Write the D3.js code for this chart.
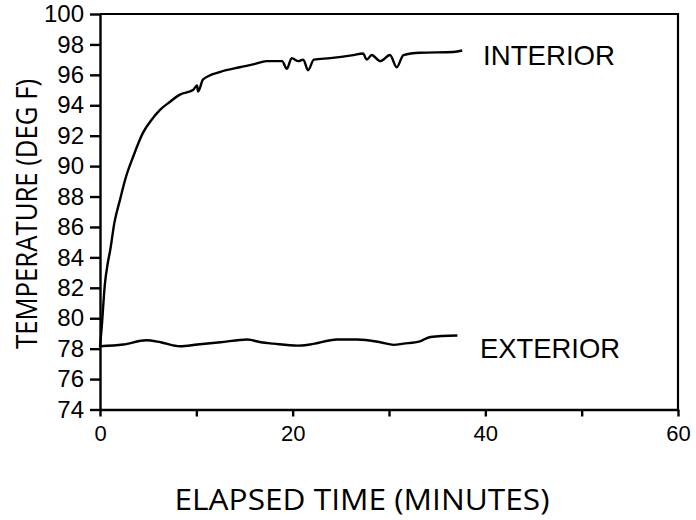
<!DOCTYPE html>
<html>
<head>
<meta charset="utf-8">
<script src="https://cdn.jsdelivr.net/npm/d3@7"></script>
<style>
  body { margin: 0; background: #fff; }
  svg { display: block; }
  .axis path, .axis line { stroke: #000; stroke-width: 2.4; }
  .axis text { font-family: "Liberation Sans", Arial, sans-serif; fill: #000; }
  .title { font-family: "Open Sans", "Liberation Sans", sans-serif; font-weight: 400; fill: #000; }
  .label { font-family: "Liberation Sans", Arial, sans-serif; font-size: 28px; fill: #000; }
</style>
</head>
<body>
<div id="chart"></div>
<script>
// interior temperature (deg F)
var interiorTime = [0, 0.2, 0.5, 0.8, 1.04, 1.5, 2.08, 2.7, 3.43, 4.47, 5.3, 6.23, 7.2, 8.3, 9.66,
  10.07, 10.18, 10.7, 12.5, 14.5, 16, 17.3, 18.9, 19.4, 19.9, 20.6, 21.1, 21.6, 22.2, 23.9,
  26.3, 27.3, 27.7, 28.2, 29.1, 30.1, 30.8, 31.5, 33.2, 36.7, 37.6];
var interiorTemp = [78.1, 79.6, 82.2, 83.6, 84.4, 86.3, 87.8, 89.3, 90.6, 92.2, 93.0, 93.7, 94.2, 94.7, 95.0,
  95.3, 94.9, 95.7, 96.2, 96.5, 96.7, 96.9, 96.9, 96.4, 97.1, 96.9, 97.0, 96.3, 97.0, 97.1,
  97.3, 97.4, 97.0, 97.3, 96.9, 97.3, 96.5, 97.3, 97.45, 97.5, 97.6];

// exterior temperature (deg F)
var exteriorTime = [0, 2.4, 4.8, 6.3, 8.3, 10.1, 12.5, 15.3, 16.7, 18.0, 20.5, 21.8, 24.6, 26.7,
  29.1, 30.5, 31.5, 33.2, 34.3, 37.1];
var exteriorTemp = [78.16, 78.27, 78.55, 78.42, 78.16, 78.27, 78.42, 78.6, 78.42, 78.33, 78.2, 78.27, 78.6, 78.6,
  78.42, 78.25, 78.33, 78.48, 78.77, 78.86];

var yTicks = [74, 76, 78, 80, 82, 84, 86, 88, 90, 92, 94, 96, 98, 100];
var xTicks = [0, 10, 20, 30, 40, 50, 60];
var xLabels = [0, 20, 40, 60];

var width = 696, height = 520;

var svg = d3.select("#chart").append("svg")
    .attr("width", width)
    .attr("height", height);

var x = d3.scaleLinear().domain([0, 60]).range([100, 678]);
var y = d3.scaleLinear().domain([74, 100]).range([409.5, 14]);

// frame (top and right sides)
svg.append("path")
    .attr("d", "M" + x(0) + "," + y(100) + "H" + x(60) + "V" + y(74))
    .attr("fill", "none")
    .attr("stroke", "#000")
    .attr("stroke-width", 2.2);

// y axis
var yAxis = svg.append("g")
    .attr("class", "axis")
    .attr("transform", "translate(" + x(0) + ",0)")
    .call(d3.axisLeft(y).tickValues(yTicks).tickSize(10).tickPadding(6).tickSizeOuter(0));
yAxis.selectAll("text").style("font-size", "24px");

// x axis
var xAxis = svg.append("g")
    .attr("class", "axis")
    .attr("transform", "translate(0," + y(74) + ")")
    .call(d3.axisBottom(x).tickValues(xTicks).tickSize(7).tickPadding(9).tickSizeOuter(0)
      .tickFormat(function(d) { return xLabels.indexOf(d) >= 0 ? d : ""; }));
xAxis.selectAll("text").style("font-size", "22px");

// lines
var line = d3.line()
    .x(function(d) { return x(d[0]); })
    .y(function(d) { return y(d[1]); })
    .curve(d3.curveMonotoneX);

svg.append("path")
    .datum(d3.zip(interiorTime, interiorTemp))
    .attr("d", line)
    .attr("fill", "none")
    .attr("stroke", "#000")
    .attr("stroke-width", 2.4)
    .attr("stroke-linejoin", "round");

svg.append("path")
    .datum(d3.zip(exteriorTime, exteriorTemp))
    .attr("d", line)
    .attr("fill", "none")
    .attr("stroke", "#000")
    .attr("stroke-width", 2.4)
    .attr("stroke-linejoin", "round");

// series labels
svg.append("text").attr("class", "label")
    .attr("x", 483).attr("y", 65)
    .attr("textLength", 132).attr("lengthAdjust", "spacingAndGlyphs")
    .text("INTERIOR");

svg.append("text").attr("class", "label")
    .attr("x", 480).attr("y", 358)
    .attr("textLength", 140).attr("lengthAdjust", "spacingAndGlyphs")
    .text("EXTERIOR");

// axis titles
svg.append("text").attr("class", "title")
    .attr("x", 362).attr("y", 510)
    .attr("text-anchor", "middle")
    .attr("textLength", 375).attr("lengthAdjust", "spacingAndGlyphs")
    .style("font-size", "30px")
    .text("ELAPSED TIME (MINUTES)");

svg.append("text").attr("class", "title")
    .attr("transform", "translate(37,214) rotate(-90)")
    .attr("text-anchor", "middle")
    .attr("textLength", 270).attr("lengthAdjust", "spacingAndGlyphs")
    .style("font-size", "30px")
    .text("TEMPERATURE (DEG F)");
</script>
</body>
</html>
